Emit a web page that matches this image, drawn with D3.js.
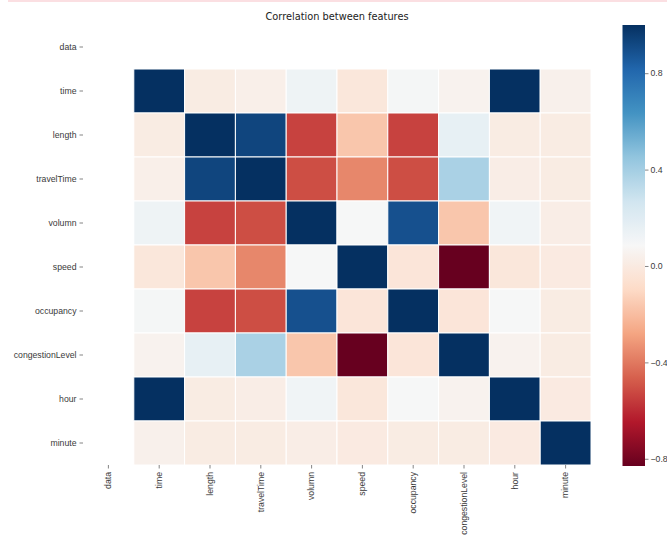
<!DOCTYPE html>
<html>
<head>
<meta charset="utf-8">
<script src="https://cdn.jsdelivr.net/npm/d3@7"></script>
<style>
  html, body { margin: 0; padding: 0; background: #fff; }
  svg { display: block; font-family: "DejaVu Sans", sans-serif; }
</style>
</head>
<body>
<svg id="chart" width="667" height="541"></svg>
<script>
// Feature names (rows and columns of the correlation matrix)
const features = ["data", "time", "length", "travelTime", "volumn", "speed",
                  "occupancy", "congestionLevel", "hour", "minute"];

// Pairwise correlations; the "data" feature has no values (NaN)
const rowData            = [null, null, null, null, null, null, null, null, null, null];
const rowTime            = [null, 1.00, 0.01, 0.03, 0.13, -0.02, 0.10, 0.05, 1.00, 0.04];
const rowLength          = [null, 0.01, 1.00, 0.93, -0.54, -0.17, -0.54, 0.16, 0.01, 0.01];
const rowTravelTime      = [null, 0.03, 0.93, 1.00, -0.51, -0.36, -0.51, 0.38, 0.02, 0.01];
const rowVolumn          = [null, 0.13, -0.54, -0.51, 1.00, 0.09, 0.89, -0.17, 0.12, 0.02];
const rowSpeed           = [null, -0.02, -0.17, -0.36, 0.09, 1.00, -0.03, -0.83, -0.02, 0.00];
const rowOccupancy       = [null, 0.10, -0.54, -0.51, 0.89, -0.03, 1.00, -0.03, 0.09, 0.01];
const rowCongestionLevel = [null, 0.05, 0.16, 0.38, -0.17, -0.83, -0.03, 1.00, 0.05, 0.01];
const rowHour            = [null, 1.00, 0.01, 0.02, 0.12, -0.02, 0.09, 0.05, 1.00, 0.00];
const rowMinute          = [null, 0.04, 0.01, 0.01, 0.02, 0.00, 0.01, 0.01, 0.00, 1.00];

const corr = [rowData, rowTime, rowLength, rowTravelTime, rowVolumn, rowSpeed,
              rowOccupancy, rowCongestionLevel, rowHour, rowMinute];

// Colour bar tick values
const cbarTicks = [0.8, 0.4, 0.0, -0.4, -0.8];

const chartTitle = "Correlation between features";

const svg = d3.select("#chart");

// Thin pink rule across the top of the page
svg.append("rect")
  .attr("x", 8).attr("y", 0).attr("width", 659).attr("height", 2)
  .attr("fill", "#fbdfe2");

const box = { left: 83, right: 591, top: 25, bottom: 465 };

const x = d3.scaleBand().domain(features).range([box.left, box.right]);
const y = d3.scaleBand().domain(features).range([box.top, box.bottom]);

// Flatten matrix into cells
const cells = [];
corr.forEach((row, i) => row.forEach((v, j) => {
  if (v !== null) cells.push({ r: features[i], c: features[j], v });
}));

const vmin = d3.min(cells, d => d.v);
const vmax = d3.max(cells, d => d.v);

// Diverging red-blue palette, piecewise linear over the data range
const palette = d3.schemeRdBu[11];
const color = d3.scaleLinear()
  .domain(palette.map((_, i) => vmin + (vmax - vmin) * i / (palette.length - 1)))
  .range(palette)
  .interpolate(d3.interpolateRgb)
  .clamp(true);

svg.append("g")
  .selectAll("rect")
  .data(cells)
  .join("rect")
  .attr("x", d => x(d.c))
  .attr("y", d => y(d.r))
  .attr("width", x.bandwidth())
  .attr("height", y.bandwidth())
  .attr("fill", d => color(d.v))
  .attr("stroke", "#ffffff")
  .attr("stroke-width", 1);

// Axes
const tickColor = "#666";
const textColor = "#3a3a3a";
const labelSize = "8.7px";

const yAxis = d3.axisLeft(y).tickSize(3.5).tickPadding(3);
const gy = svg.append("g").attr("transform", `translate(${box.left},0)`).call(yAxis);
gy.select(".domain").remove();
gy.selectAll(".tick line").attr("stroke", tickColor).attr("stroke-width", 0.8);
gy.selectAll(".tick text").attr("fill", textColor).style("font-size", labelSize);

const xAxis = d3.axisBottom(x).tickSize(3.5).tickPadding(3);
const gx = svg.append("g").attr("transform", `translate(0,${box.bottom})`).call(xAxis);
gx.select(".domain").remove();
gx.selectAll(".tick line").attr("stroke", tickColor).attr("stroke-width", 0.8);
gx.selectAll(".tick text")
  .attr("fill", textColor)
  .style("font-size", labelSize)
  .attr("transform", "rotate(-90)")
  .attr("text-anchor", "end")
  .attr("x", -7)
  .attr("y", 0)
  .attr("dy", "0.32em");

// Title
svg.append("text")
  .attr("x", (box.left + box.right) / 2)
  .attr("y", 20)
  .attr("text-anchor", "middle")
  .attr("fill", "#222")
  .style("font-size", "9.8px")
  .text(chartTitle);

// Colour bar
const cb = { x: 622.5, w: 22.5, top: box.top, bottom: box.bottom + 1 };
const cbScale = d3.scaleLinear().domain([vmin, vmax]).range([cb.bottom, cb.top]);

const grad = svg.append("defs").append("linearGradient")
  .attr("id", "cbarGrad")
  .attr("x1", 0).attr("y1", 1).attr("x2", 0).attr("y2", 0);
d3.range(0, 1.0001, 0.02).forEach(t => {
  grad.append("stop")
    .attr("offset", t)
    .attr("stop-color", color(vmin + (vmax - vmin) * t));
});

svg.append("rect")
  .attr("x", cb.x).attr("y", cb.top)
  .attr("width", cb.w).attr("height", cb.bottom - cb.top)
  .attr("fill", "url(#cbarGrad)");

const cAxis = d3.axisRight(cbScale)
  .tickValues(cbarTicks)
  .tickSize(3.5).tickPadding(2)
  .tickFormat(d => d3.format(".1f")(d).replace("-", "\u2212"));
const gc = svg.append("g").attr("transform", `translate(${cb.x + cb.w},0)`).call(cAxis);
gc.select(".domain").remove();
gc.selectAll(".tick line").attr("stroke", tickColor).attr("stroke-width", 0.8);
gc.selectAll(".tick text").attr("fill", textColor).style("font-size", labelSize);
</script>
</body>
</html>
